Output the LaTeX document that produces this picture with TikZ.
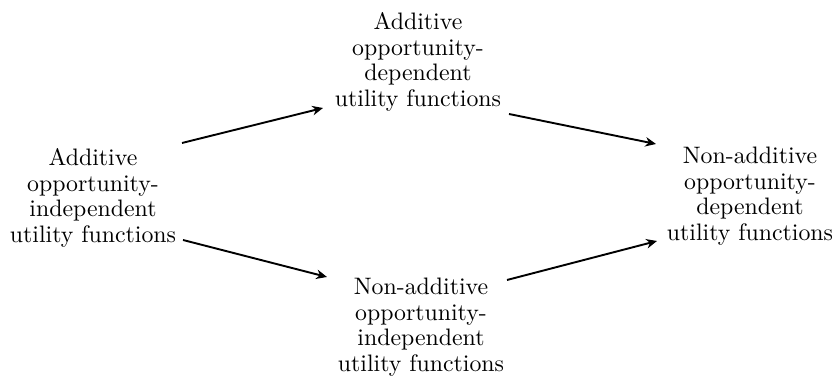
\documentclass[tikz,border=0pt]{standalone}
\usetikzlibrary{arrows.meta}
\begin{document}
\begin{tikzpicture}[x=0.42pt,y=-0.42pt,
  box/.style={align=center,inner sep=0pt,font=\fontsize{10}{10.7}\selectfont},
  conn/.style={line width=0.8pt,-{Stealth[length=4.5pt,width=4pt]}}]
\useasboundingbox (0,0) rectangle (837,379);
\node[box] (L) at (93,198) {Additive\\opportunity-\\independent\\utility functions};
\node[box] (T) at (418,62) {Additive\\opportunity-\\dependent\\utility functions};
\node[box] (B) at (421,327) {Non-additive\\opportunity-\\independent\\utility functions};
\node[box] (R) at (750,196) {Non-additive\\opportunity-\\dependent\\utility functions};
\draw[conn] ([shift={(89,-55)}]L.center) -- ([shift={(-95,46)}]T.center);
\draw[conn] ([shift={(90,42)}]L.center) -- ([shift={(-94,-50)}]B.center);
\draw[conn] ([shift={(91,52)}]T.center) -- ([shift={(-94,-52)}]R.center);
\draw[conn] ([shift={(86,-47)}]B.center) -- ([shift={(-93,45)}]R.center);
\end{tikzpicture}
\end{document}
